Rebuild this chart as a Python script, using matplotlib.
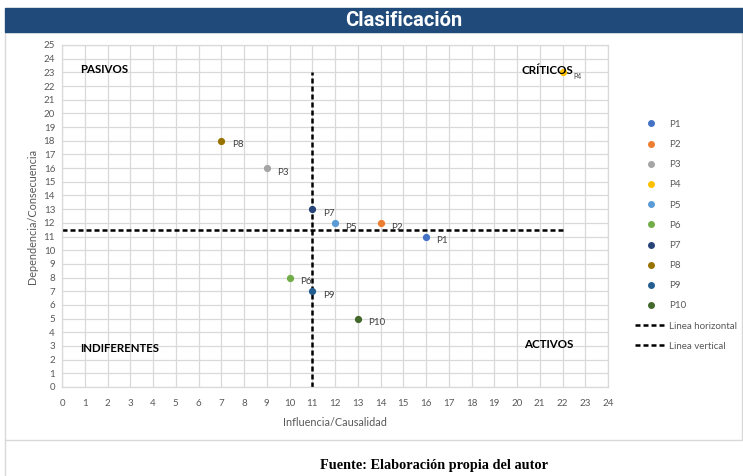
import matplotlib.pyplot as plt
from matplotlib.patches import Rectangle
from matplotlib.lines import Line2D

# datos de la matriz de influencia / dependencia
names = ['P1', 'P2', 'P3', 'P4', 'P5', 'P6', 'P7', 'P8', 'P9', 'P10']
influencia = [16, 14, 9, 22, 12, 10, 11, 7, 11, 13]
dependencia = [11, 12, 16, 23, 12, 8, 13, 18, 7, 5]
colors = ['#4472C4', '#ED7D31', '#A5A5A5', '#FFC000', '#5B9BD5',
          '#70AD47', '#264478', '#997300', '#255E91', '#43682B']

linea_h_x = [0, 22]
linea_h_y = [11.5, 11.5]
linea_v_x = [11, 11]
linea_v_y = [0, 23]

x_ticks = list(range(0, 25))
y_ticks = list(range(0, 26))

W, H = 743, 476
plt.rcParams['font.family'] = ['Lato', 'DejaVu Sans']

fig = plt.figure(figsize=(W / 100, H / 100), dpi=100)

# marco del grafico y barra de titulo
fig.patches.append(Rectangle((5 / W, (H - 440) / H), (W - 6) / W, 408 / H,
                             transform=fig.transFigure, fill=False,
                             edgecolor='#D9D9D9', lw=1))
fig.add_artist(Line2D([5 / W, 5 / W], [0, (H - 440) / H], color='#D9D9D9', lw=1))
fig.patches.append(Rectangle((5 / W, (H - 32) / H), (W - 5) / W, 24 / H,
                             transform=fig.transFigure, color='#1F4A7A'))
fig.text(404 / W, (H - 20) / H, 'Clasificación', color='white', fontsize=14.5,
         fontweight='bold', ha='center', va='center',
         family=['Roboto', 'Liberation Sans', 'DejaVu Sans'], stretch='condensed')

ax = fig.add_axes([62 / W, (H - 387) / H, 546 / W, 342 / H])

for n, x, y, c in zip(names, influencia, dependencia, colors):
    ax.plot(x, y, 'o', color=c, markersize=4.2, label=n, zorder=3)
    fs = 5 if n == 'P4' else 7
    ax.annotate(n, (x, y), xytext=(7.5, -3), textcoords='offset points',
                fontsize=fs, color='#404040', va='center', zorder=4)

ax.plot(linea_h_x, linea_h_y, color='black', lw=1.8, dashes=(2, 1.2),
        label='Linea horizontal', zorder=2)
ax.plot(linea_v_x, linea_v_y, color='black', lw=1.8, dashes=(2, 1.2),
        label='Linea vertical', zorder=2)

# cuadrantes
ax.text(0.8, 23.2, 'PASIVOS', fontsize=8.3, fontweight='bold', va='center')
ax.text(20.2, 23.1, 'CRÍTICOS', fontsize=8.3, fontweight='bold', va='center')
ax.text(0.8, 2.8, 'INDIFERENTES', fontsize=8.3, fontweight='bold', va='center')
ax.text(20.3, 3.1, 'ACTIVOS', fontsize=8.3, fontweight='bold', va='center')

ax.set_xlim(0, 24)
ax.set_ylim(0, 25)
ax.set_xticks(x_ticks)
ax.set_yticks(y_ticks)
ax.tick_params(length=0, labelsize=7, labelcolor='#595959')
ax.tick_params(axis='x', pad=9)
ax.tick_params(axis='y', pad=5)
ax.grid(True, color='#D9D9D9', lw=0.9)
ax.set_axisbelow(True)
for s in ax.spines.values():
    s.set_color('#D9D9D9')
    s.set_linewidth(0.9)

ax.set_xlabel('Influencia/Causalidad', fontsize=7.8, color='#595959', labelpad=6)
ax.set_ylabel('Dependencia/Consecuencia', fontsize=7.8, color='#595959', labelpad=4)

ax.legend(loc='upper left', bbox_to_anchor=(630 / W, (H - 115) / H),
          bbox_transform=fig.transFigure, frameon=False, fontsize=7,
          labelcolor='#595959', handlelength=3.3, handletextpad=0.2,
          labelspacing=1.15, borderpad=0, numpoints=1, markerscale=0.95)

fig.text(434 / W, (H - 466) / H, 'Fuente: Elaboración propia del autor',
         fontsize=10.3, fontweight='bold', ha='center', va='center',
         family=['Liberation Serif', 'DejaVu Serif'])

fig.savefig('out.png', dpi=100)
